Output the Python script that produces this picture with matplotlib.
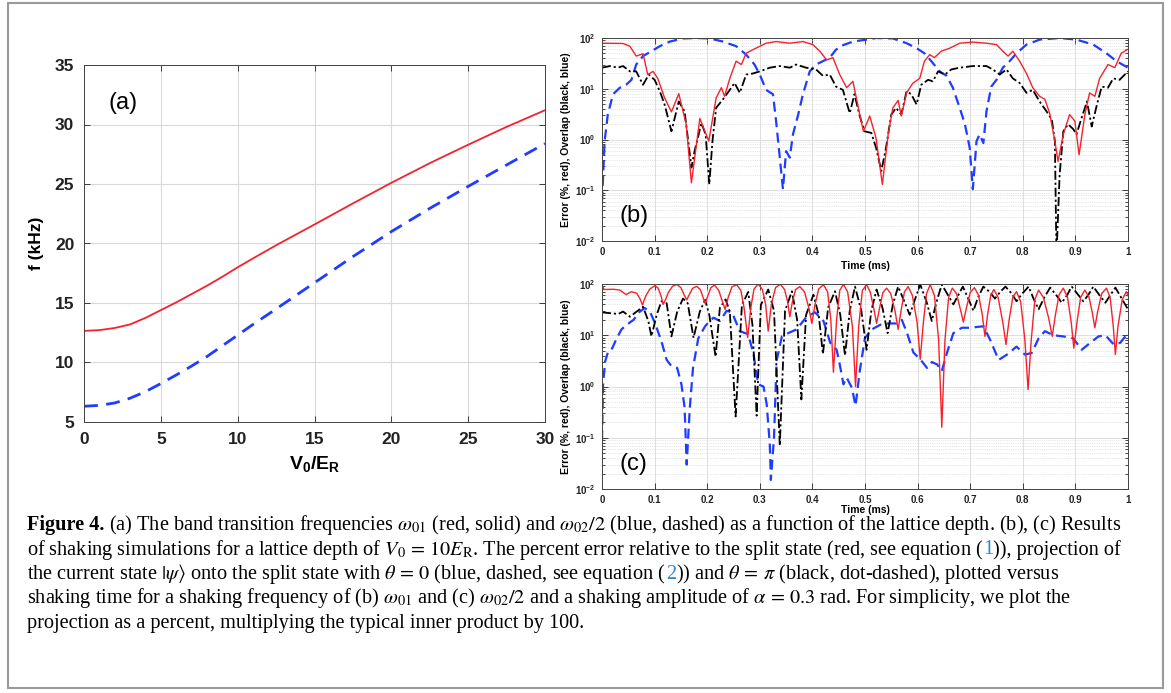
import matplotlib
matplotlib.use("Agg")
import matplotlib.pyplot as plt
from matplotlib.patches import Rectangle
from matplotlib.ticker import LogLocator, NullFormatter

plt.rcParams["font.family"] = ["Liberation Sans", "DejaVu Sans"]
plt.rcParams["mathtext.fontset"] = "custom"
plt.rcParams["mathtext.rm"] = "Liberation Sans"
plt.rcParams["mathtext.bf"] = "Liberation Sans:bold"
plt.rcParams["mathtext.it"] = "Liberation Sans:italic"

# ---- panel (a): band transition frequencies ----
depth = [0, 1, 2, 3, 4, 5, 6, 7, 8, 9, 10, 11, 12.5, 15, 17.5, 20, 22.5, 25, 27.5, 30]
f01 = [12.66, 12.72, 12.9, 13.2, 13.75, 14.4, 15.05, 15.75, 16.45, 17.2, 18.0, 18.75,
       19.85, 21.6, 23.37, 25.1, 26.75, 28.3, 29.8, 31.2]
f02_half = [6.32, 6.4, 6.6, 7.0, 7.55, 8.23, 8.95, 9.7, 10.5, 11.4, 12.3, 13.2,
            14.5, 16.7, 18.9, 21.0, 22.95, 24.8, 26.6, 28.4]

# ---- panel (b): shaking at omega_01 ----
tb_red = [0.000, 0.040, 0.053, 0.065, 0.078, 0.087, 0.097, 0.106, 0.119, 0.132, 0.146, 0.160,
          0.170, 0.186, 0.203, 0.217, 0.227, 0.233, 0.243, 0.255, 0.265, 0.274, 0.287, 0.312,
          0.331, 0.357, 0.382, 0.401, 0.414, 0.427, 0.439, 0.452, 0.465, 0.477, 0.490, 0.497,
          0.509, 0.521, 0.533, 0.544, 0.553, 0.563, 0.569, 0.579, 0.591, 0.604, 0.613, 0.623,
          0.632, 0.645, 0.661, 0.680, 0.705, 0.731, 0.750, 0.762, 0.772, 0.781, 0.794, 0.807,
          0.819, 0.832, 0.842, 0.851, 0.861, 0.867, 0.877, 0.889, 0.899, 0.907, 0.918, 0.927,
          0.937, 0.946, 0.962, 0.975, 0.987, 1.000]
err_b = [79, 78, 69, 44, 49, 19, 22, 16, 6.6, 3.5, 8.0, 2.0,
         0.14, 2.6, 0.93, 6.6, 10.5, 7.1, 16, 35, 30, 50, 59, 79,
         85, 79, 85, 74, 55, 37, 41, 19, 10.5, 14, 3.1, 1.45,
         2.9, 1.07, 0.13, 1.26, 4.2, 5.9, 2.9, 8.3, 12.9, 16, 35, 47,
         41, 55, 63, 79, 83, 79, 74, 55, 44, 55, 35, 20,
         10.5, 7.1, 6.2, 3.3, 0.93, 0.37, 1.26, 3.1, 2.3, 0.5, 3.1, 8.3,
         7.1, 16, 30, 26, 50, 60]

tb_blue = [0.000, 0.005, 0.011, 0.021, 0.034, 0.046, 0.056, 0.065, 0.078, 0.094, 0.110, 0.129,
           0.154, 0.179, 0.205, 0.230, 0.255, 0.274, 0.290, 0.300, 0.312, 0.325, 0.331, 0.338,
           0.344, 0.350, 0.357, 0.363, 0.373, 0.382, 0.395, 0.407, 0.420, 0.433, 0.445, 0.458,
           0.477, 0.503, 0.521, 0.553, 0.579, 0.598, 0.613, 0.626, 0.642, 0.655, 0.667, 0.680,
           0.690, 0.699, 0.705, 0.712, 0.718, 0.725, 0.731, 0.740, 0.750, 0.762, 0.775, 0.788,
           0.807, 0.832, 0.870, 0.902, 0.934, 0.959, 0.978, 1.000]
ov0_b = [0.06, 0.93, 3.1, 7.8, 10.5, 12, 15, 30, 44, 55, 69, 85,
         98, 100, 98, 85, 69, 47, 30, 19, 9.5, 7.8, 2.3, 0.44,
         0.105, 0.59, 0.44, 1.26, 3.1, 7.8, 22, 30, 35, 41, 59, 72,
         85, 93, 100, 98, 79, 63, 50, 35, 22, 18, 10.5, 4.2,
         2.0, 0.69, 0.105, 0.93, 1.26, 0.85, 3.6, 11, 15, 26, 35, 50,
         74, 93, 100, 93, 74, 50, 35, 26]

tb_black = [0.000, 0.015, 0.030, 0.040, 0.053, 0.065, 0.078, 0.089, 0.100, 0.110, 0.119, 0.132,
            0.146, 0.157, 0.170, 0.176, 0.189, 0.197, 0.204, 0.210, 0.217, 0.230, 0.243, 0.252,
            0.262, 0.274, 0.287, 0.300, 0.319, 0.338, 0.357, 0.369, 0.388, 0.407, 0.420, 0.433,
            0.445, 0.458, 0.471, 0.480, 0.490, 0.499, 0.512, 0.521, 0.531, 0.540, 0.550, 0.559,
            0.569, 0.579, 0.588, 0.598, 0.607, 0.620, 0.629, 0.639, 0.652, 0.664, 0.680, 0.705,
            0.731, 0.743, 0.756, 0.769, 0.781, 0.794, 0.807, 0.819, 0.832, 0.845, 0.855, 0.861,
            0.864, 0.870, 0.877, 0.886, 0.896, 0.902, 0.912, 0.922, 0.931, 0.941, 0.950, 0.962,
            0.972, 0.984, 1.000]
ovpi_b = [26, 28, 26, 28, 22, 22, 12, 19, 15, 8.9, 4.9, 1.45,
          5.6, 3.6, 0.28, 0.59, 2.1, 1.26, 0.13, 0.93, 4.2, 6.2, 9.5, 13,
          8.3, 19, 20, 22, 26, 28, 26, 30, 26, 24, 18, 19,
          11, 9.5, 3.3, 7.8, 2.9, 1.45, 1.35, 0.69, 0.24, 0.69, 3.1, 4.2,
          3.1, 8.9, 7.8, 4.9, 12, 15, 14, 22, 19, 24, 26, 28,
          28, 24, 19, 24, 16, 13, 8.3, 9.5, 5.6, 3.6, 2.5, 0.93,
          0.005, 0.2, 1.45, 2.0, 1.6, 1.26, 2.7, 5.6, 1.8, 4.9, 11, 10.5,
          16, 15, 22]

# ---- panel (c): shaking at omega_02 / 2 ----
tc_red = [0.000, 0.004, 0.022, 0.034, 0.046, 0.056, 0.066, 0.072, 0.077, 0.083, 0.091, 0.101,
          0.107, 0.113, 0.116, 0.121, 0.126, 0.134, 0.142, 0.150, 0.156, 0.161, 0.166, 0.172,
          0.180, 0.187, 0.192, 0.196, 0.201, 0.207, 0.214, 0.222, 0.229, 0.234, 0.240, 0.247,
          0.256, 0.264, 0.270, 0.277, 0.283, 0.289, 0.297, 0.305, 0.311, 0.316, 0.322, 0.330,
          0.339, 0.347, 0.353, 0.357, 0.362, 0.368, 0.376, 0.385, 0.393, 0.399, 0.405, 0.412,
          0.421, 0.429, 0.435, 0.440, 0.446, 0.452, 0.459, 0.467, 0.476, 0.482, 0.488, 0.495,
          0.503, 0.510, 0.517, 0.522, 0.528, 0.534, 0.541, 0.549, 0.557, 0.563, 0.569, 0.575,
          0.582, 0.590, 0.599, 0.605, 0.611, 0.617, 0.624, 0.632, 0.640, 0.646, 0.652, 0.659,
          0.666, 0.674, 0.682, 0.687, 0.693, 0.700, 0.708, 0.716, 0.723, 0.728, 0.733, 0.739,
          0.745, 0.753, 0.762, 0.768, 0.774, 0.781, 0.788, 0.796, 0.804, 0.810, 0.816, 0.823,
          0.830, 0.839, 0.849, 0.856, 0.862, 0.869, 0.877, 0.885, 0.892, 0.897, 0.903, 0.910,
          0.918, 0.926, 0.932, 0.937, 0.942, 0.950, 0.959, 0.966, 0.972, 0.976, 0.981, 0.989,
          0.997, 1.000]
err_c = [95, 78, 79, 76, 62, 71, 66, 52, 39, 58, 80, 93,
         82, 55, 40, 50, 68, 90, 98, 85, 62, 49, 62, 82,
         90, 78, 55, 42, 58, 85, 95, 75, 45, 32, 55, 88,
         97, 75, 35, 9, 35, 80, 100, 78, 40, 12, 40, 85,
         99, 78, 45, 23, 45, 78, 89, 70, 35, 17, 40, 80,
         97, 70, 20, 1.9, 20, 75, 99, 70, 15, 1.0, 15, 75,
         97, 70, 32, 17, 35, 68, 83, 65, 30, 13, 32, 70,
         89, 60, 18, 3.4, 18, 65, 97, 60, 8, 0.16, 8, 55,
         83, 65, 30, 18, 35, 68, 85, 60, 25, 9.5, 25, 60,
         78, 55, 18, 6.6, 20, 55, 71, 45, 8, 0.87, 8, 50,
         76, 55, 22, 9.5, 25, 62, 83, 55, 18, 5.6, 18, 55,
         76, 55, 28, 14, 28, 65, 83, 55, 15, 4.2, 15, 50,
         71, 59]

tc_blue = [0.000, 0.002, 0.006, 0.012, 0.018, 0.028, 0.037, 0.047, 0.060, 0.072, 0.081, 0.091,
           0.101, 0.113, 0.123, 0.132, 0.143, 0.151, 0.157, 0.161, 0.167, 0.173, 0.183, 0.196,
           0.205, 0.212, 0.224, 0.237, 0.247, 0.262, 0.278, 0.288, 0.297, 0.307, 0.313, 0.319,
           0.321, 0.327, 0.332, 0.342, 0.354, 0.370, 0.389, 0.405, 0.421, 0.434, 0.446, 0.452,
           0.459, 0.465, 0.475, 0.482, 0.490, 0.500, 0.513, 0.529, 0.545, 0.560, 0.570, 0.580,
           0.592, 0.605, 0.618, 0.627, 0.637, 0.646, 0.656, 0.668, 0.684, 0.700, 0.725, 0.738,
           0.754, 0.770, 0.788, 0.804, 0.817, 0.830, 0.842, 0.858, 0.877, 0.896, 0.912, 0.928,
           0.944, 0.957, 0.973, 0.985, 1.000]
ov0_c = [0.09, 1.1, 3.1, 4.9, 5.2, 8.7, 13, 16, 20, 29, 34, 29,
         17, 7.6, 3.3, 2.5, 2.3, 1.1, 0.39, 0.03, 0.39, 2.3, 8.7, 15,
         19, 22, 19, 30, 28, 12, 10.5, 4.3, 1.1, 1.0, 0.46, 0.076,
         0.015, 0.1, 3.2, 9.5, 11, 13, 23, 28, 19, 7.1, 5.2, 2.7,
         1.1, 1.5, 0.95, 0.42, 2.0, 8.9, 13, 16, 17, 17, 20, 11,
         4.6, 3.4, 2.3, 3.0, 2.7, 2.0, 4.6, 11, 14, 14, 15, 8.1,
         3.3, 4.2, 6.0, 4.2, 4.5, 8.7, 12, 10, 9.5, 8.7, 5.2, 7.1,
         9.5, 10, 6.6, 7.1, 11]

tc_black = [0.000, 0.015, 0.031, 0.040, 0.053, 0.066, 0.078, 0.088, 0.094, 0.104, 0.113, 0.123,
            0.132, 0.143, 0.154, 0.163, 0.174, 0.186, 0.196, 0.204, 0.216, 0.224, 0.235, 0.243,
            0.254, 0.266, 0.278, 0.286, 0.294, 0.302, 0.316, 0.327, 0.338, 0.348, 0.361, 0.371,
            0.379, 0.388, 0.402, 0.412, 0.420, 0.430, 0.443, 0.453, 0.462, 0.471, 0.481, 0.493,
            0.503, 0.512, 0.522, 0.533, 0.543, 0.553, 0.563, 0.575, 0.585, 0.595, 0.605, 0.617,
            0.627, 0.636, 0.646, 0.658, 0.668, 0.677, 0.686, 0.697, 0.706, 0.715, 0.725, 0.737,
            0.747, 0.757, 0.767, 0.779, 0.788, 0.799, 0.811, 0.821, 0.830, 0.841, 0.852, 0.864,
            0.874, 0.884, 0.893, 0.905, 0.915, 0.925, 0.934, 0.946, 0.957, 0.967, 0.976, 0.989,
            1.000]
ovpi_c = [28, 27, 26, 29, 23, 29, 36, 19, 9.5, 25, 46, 42,
          9.5, 29, 52, 42, 8.9, 29, 49, 25, 3.8, 34, 50, 29,
          0.26, 39, 70, 16, 0.27, 39, 78, 30, 0.07, 30, 72, 20,
          0.56, 25, 62, 25, 4.3, 35, 72, 25, 4.0, 30, 89, 30,
          5.2, 30, 78, 35, 11, 40, 89, 45, 25, 50, 98, 45,
          19, 45, 98, 60, 40, 60, 89, 50, 30, 55, 89, 70,
          52, 70, 89, 65, 46, 65, 89, 50, 32, 55, 85, 60,
          43, 60, 89, 62, 46, 62, 89, 60, 43, 62, 85, 50,
          32]

time_ticks = [0, 0.1, 0.2, 0.3, 0.4, 0.5, 0.6, 0.7, 0.8, 0.9, 1]
time_labels = ["0", "0.1", "0.2", "0.3", "0.4", "0.5", "0.6", "0.7", "0.8", "0.9", "1"]
log_ticks = [1e-2, 1e-1, 1e0, 1e1, 1e2]
log_labels = [r"$\mathbf{10^{-2}}$", r"$\mathbf{10^{-1}}$", r"$\mathbf{10^{0}}$",
              r"$\mathbf{10^{1}}$", r"$\mathbf{10^{2}}$"]

RED = "#f5222d"
BLUE = "#1f3cff"
W, H = 1171, 693

fig = plt.figure(figsize=(W / 100, H / 100), dpi=100)


def box(left, top, right, bottom):
    return [left / W, 1 - bottom / H, (right - left) / W, (bottom - top) / H]


def matlab_style(ax, size, pad):
    ax.tick_params(direction="in", top=True, right=True, length=4, width=0.6,
                   labelsize=size, colors="#222222", pad=pad)
    for lab in ax.get_xticklabels() + ax.get_yticklabels():
        lab.set_fontweight("bold")
    for sp in ax.spines.values():
        sp.set_color("#444444")
        sp.set_linewidth(0.7)


# panel (a)
ax_a = fig.add_axes(box(84, 65, 545, 422))
ax_a.plot(depth, f01, color=RED, lw=1.3)
ax_a.plot(depth, f02_half, color=BLUE, lw=2.0, linestyle=(0, (5, 3)))
ax_a.set_xlim(0, 30)
ax_a.set_ylim(5, 35)
ax_a.set_xticks([0, 5, 10, 15, 20, 25, 30])
ax_a.set_yticks([5, 10, 15, 20, 25, 30, 35])
ax_a.grid(True, color="#d9d9d9", lw=0.8)
ax_a.set_axisbelow(True)
matlab_style(ax_a, 12.5, 7)
ax_a.set_xlabel(r"$\mathbf{V_0/E_R}$", fontsize=14, labelpad=5)
ax_a.set_ylabel("f (kHz)", fontsize=12.5, fontweight="bold", labelpad=8)
ax_a.text(1.6, 31.3, "(a)", fontsize=17)


def shaking_panel(rect, tag, red, blue, black, xpad):
    ax = fig.add_axes(rect)
    ax.set_yscale("log")
    ax.plot(blue[0], blue[1], color=BLUE, lw=1.6, linestyle=(0, (4.5, 2.5)))
    ax.plot(black[0], black[1], color="black", lw=1.3, linestyle=(0, (5, 1.6, 1.2, 1.6)))
    ax.plot(red[0], red[1], color=RED, lw=1.0)
    ax.set_xlim(0, 1)
    ax.set_ylim(1e-2, 1e2)
    ax.set_xticks(time_ticks)
    ax.set_xticklabels(time_labels)
    ax.set_yticks(log_ticks)
    ax.set_yticklabels(log_labels)
    ax.yaxis.set_minor_locator(LogLocator(base=10, subs=range(2, 10)))
    ax.yaxis.set_minor_formatter(NullFormatter())
    ax.tick_params(which="minor", direction="in", right=True, length=2, width=0.5)
    ax.grid(True, which="major", color="#dddddd", lw=0.7)
    ax.grid(True, which="minor", axis="y", color="#d0d0d0", lw=0.5, linestyle=":")
    ax.set_axisbelow(True)
    matlab_style(ax, 7, 4.5)
    ax.set_xlabel("Time (ms)", fontsize=7.5, fontweight="bold", labelpad=xpad)
    ax.set_ylabel("Error (%, red), Overlap (black, blue)", fontsize=7.5,
                  fontweight="bold", labelpad=3)
    ax.text(0.033, 0.024, tag, fontsize=17)
    return ax


shaking_panel(box(602, 38, 1128, 241), "(b)",
              (tb_red, err_b), (tb_blue, ov0_b), (tb_black, ovpi_b), 3)
shaking_panel(box(602, 284, 1128, 489), "(c)",
              (tc_red, err_c), (tc_blue, ov0_c), (tc_black, ovpi_c), 0)

# frame around the figure
fig.add_artist(Rectangle((8 / W, 1 - 688 / H), 1155 / W, 685 / H, transform=fig.transFigure,
                         fill=False, edgecolor="#9a9a9a", lw=1.5))

# caption
caption = [
    [("Figure 4.", "black", "bold"),
     (r" (a) The band transition frequencies $\omega_{01}$ (red, solid) and $\omega_{02}/2$ (blue, dashed)"
      r" as a function of the lattice depth. (b), (c) Results", "black", "normal")],
    [(r"of shaking simulations for a lattice depth of $V_0\,=\,10E_\mathrm{R}$. The percent error relative"
      r" to the split state (red, see equation (", "black", "normal"),
     ("1", "#2a8ccf", "normal"), (")), projection of", "black", "normal")],
    [(r"the current state $|\psi\rangle$ onto the split state with $\theta\,=\,0$ (blue, dashed, see equation (",
      "black", "normal"),
     ("2", "#2a8ccf", "normal"),
     (r")) and $\theta\,=\,\pi$ (black, dot-dashed), plotted versus", "black", "normal")],
    [(r"shaking time for a shaking frequency of (b) $\omega_{01}$ and (c) $\omega_{02}/2$ and a shaking"
      r" amplitude of $\alpha\,=\,0.3$ rad. For simplicity, we plot the", "black", "normal")],
    [("projection as a percent, multiplying the typical inner product by 100.", "black", "normal")],
]

renderer = fig.canvas.get_renderer()
line_y = [530, 554.5, 579, 603.5, 628]
for runs, y in zip(caption, line_y):
    x = 27
    for s, col, wt in runs:
        t = fig.text(x / W, 1 - y / H, s, fontsize=14.6, color=col, fontweight=wt,
                     family=["Liberation Serif", "DejaVu Serif"], math_fontfamily="stix",
                     va="baseline", ha="left")
        bb = t.get_window_extent(renderer)
        x += bb.width
fig.savefig("out.png", dpi=100)
